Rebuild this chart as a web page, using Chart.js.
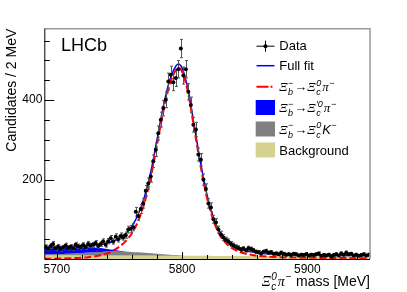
<!DOCTYPE html>
<html>
<head>
<meta charset="utf-8">
<script src="https://cdn.jsdelivr.net/npm/chart.js@4.4.1/dist/chart.umd.min.js"></script>
<style>
html, body { margin: 0; padding: 0; background: #fff; }
#wrap { width: 407px; height: 292px; }
</style>
</head>
<body>
<div id="wrap"><canvas id="c" width="407" height="292"></canvas></div>
<script>
// Data: candidates per 2 MeV bin
const binCentres = [
    5691, 5693, 5695, 5697, 5699, 5701, 5703, 5705, 5707, 5709,
    5711, 5713, 5715, 5717, 5719, 5721, 5723, 5725, 5727, 5729,
    5731, 5733, 5735, 5737, 5739, 5741, 5743, 5745, 5747, 5749,
    5751, 5753, 5755, 5757, 5759, 5761, 5763, 5765, 5767, 5769,
    5771, 5773, 5775, 5777, 5779, 5781, 5783, 5785, 5787, 5789,
    5791, 5793, 5795, 5797, 5799, 5801, 5803, 5805, 5807, 5809,
    5811, 5813, 5815, 5817, 5819, 5821, 5823, 5825, 5827, 5829,
    5831, 5833, 5835, 5837, 5839, 5841, 5843, 5845, 5847, 5849,
    5851, 5853, 5855, 5857, 5859, 5861, 5863, 5865, 5867, 5869,
    5871, 5873, 5875, 5877, 5879, 5881, 5883, 5885, 5887, 5889,
    5891, 5893, 5895, 5897, 5899, 5901, 5903, 5905, 5907, 5909,
    5911, 5913, 5915, 5917, 5919, 5921, 5923, 5925, 5927, 5929,
    5931, 5933, 5935, 5937, 5939, 5941, 5943, 5945, 5947, 5949
];
const counts = [
    30, 26, 33, 38, 27, 31, 25, 29, 34, 28,
    31, 27, 36, 32, 30, 35, 30, 38, 34, 36,
    40, 33, 38, 44, 36, 45, 52, 44, 56, 50,
    58, 55, 60, 74, 76, 80, 119, 108, 126, 140,
    172, 190, 208, 246, 275, 317, 351, 380, 401, 447,
    464, 445, 456, 478, 530, 462, 478, 421, 388, 338,
    326, 263, 250, 200, 176, 140, 130, 100, 92, 74,
    62, 54, 48, 44, 38, 34, 30, 28, 24, 26,
    22, 27, 25, 22, 18, 17, 14, 18, 20, 16,
    17, 13, 14, 12, 16, 13, 11, 12, 10, 13,
    12, 9, 11, 10, 12, 9, 11, 10, 12, 14,
    8, 10, 9, 11, 7, 10, 12, 9, 14, 11,
    16, 12, 13, 9, 11, 8, 10, 12, 9, 11
];

// Fit curves, sampled on fitMass
const fitMass = [5690, 5695, 5700, 5705, 5710, 5715, 5720, 5725, 5730, 5735, 5740, 5745, 5750, 5755, 5760,
    5765, 5770, 5775, 5780, 5785, 5790, 5795, 5797, 5800, 5805, 5810, 5815, 5820, 5825, 5830,
    5835, 5840, 5845, 5850, 5855, 5860, 5870, 5880, 5890, 5900, 5910, 5920, 5930, 5940, 5950];
const fullFit = [31.0, 31.2, 31.6, 31.7, 31.9, 32.5, 33.3, 34.1, 35.3, 36.9, 39.4, 44.1, 51.8, 64.1, 82.8,
    112.8, 157.5, 219.3, 301, 383.9, 448.7, 485.8, 491.4, 480.9, 423.3, 330, 238, 159.9, 104.8, 68.8,
    47.7, 34.6, 26.6, 21.5, 18, 15.4, 12.8, 11.5, 10.7, 10.1, 9.7, 9.3, 9.0, 8.7, 8.5];
const signal = [0.5, 0.7, 1, 1.3, 1.7, 2.3, 3.2, 4.5, 6.5, 9.5, 14, 21, 31, 45, 65,
    96, 142, 205, 288, 372, 438, 476, 482, 472, 415, 322, 230, 152, 97, 61,
    40, 27, 19, 14, 10.5, 8, 5.5, 4.3, 3.6, 3.1, 2.8, 2.5, 2.3, 2.1, 2.0];
const xicPrimePi = [19, 18.6, 18.2, 17.6, 17, 16, 15, 13.5, 11.8, 9.5, 6.5, 3.8, 1.6, 0.4, 0,
    0, 0, 0, 0, 0, 0, 0, 0, 0, 0, 0, 0, 0, 0, 0,
    0, 0, 0, 0, 0, 0, 0, 0, 0, 0, 0, 0, 0, 0, 0];
const xicK = [2, 2.5, 3, 3.5, 4, 5, 6, 7, 8, 9, 10, 10.5, 10.5, 10, 9.2,
    8.2, 7, 5.8, 4.6, 3.5, 2.4, 1.5, 1.2, 0.7, 0.2, 0, 0, 0, 0, 0,
    0, 0, 0, 0, 0, 0, 0, 0, 0, 0, 0, 0, 0, 0, 0];
const background = [9.5, 9.4, 9.4, 9.3, 9.2, 9.2, 9.1, 9.1, 9.0, 8.9, 8.9, 8.8, 8.7, 8.7, 8.6,
    8.6, 8.5, 8.5, 8.4, 8.4, 8.3, 8.3, 8.2, 8.2, 8.1, 8.0, 8.0, 7.9, 7.8, 7.8,
    7.7, 7.6, 7.6, 7.5, 7.5, 7.4, 7.3, 7.2, 7.1, 7.0, 6.9, 6.8, 6.7, 6.6, 6.5];

const xMajorTicks = [5700, 5800, 5900];
const xMinorTicks = [5720, 5740, 5760, 5780, 5820, 5840, 5860, 5880, 5920, 5940];
const yMajorTicks = [200, 400];
const yMinorTicks = [50, 100, 150, 250, 300, 350, 450, 500, 550];

const SANS = '"Liberation Sans", Arial, Helvetica, sans-serif';
const SERIF = '"Liberation Serif", "Times New Roman", serif';
const KHAKI = '#d5d18e';

function pts(xs, ys) {
    return xs.map((x, i) => ({ x, y: ys[i] }));
}

// stacked components: background, then Xi_c K, then Xi_c' pi
const stackBkg = background;
const stackK = background.map((v, i) => v + xicK[i]);
const stackPrime = stackK.map((v, i) => v + xicPrimePi[i]);

// little latex-ish text renderer
const G = (t) => ({ t, font: 'italic {s}px ' + SERIF });
const I = (t) => ({ t, font: 'italic {s}px ' + SANS });
const T = (t) => ({ t, font: '{s}px ' + SANS });
const SS = (sub, sup) => ({ sub, sup });

function rich(ctx, toks, x, y, size, draw) {
    let cx = x;
    toks.forEach((tk) => {
        if (tk.sub !== undefined || tk.sup !== undefined) {
            const s = Math.round(size * 0.7);
            ctx.font = 'italic ' + s + 'px ' + SANS;
            let w = 0;
            if (tk.sup) {
                if (draw) ctx.fillText(tk.sup, cx + 0.5, y - size * 0.42);
                w = Math.max(w, ctx.measureText(tk.sup).width);
            }
            if (tk.sub) {
                if (draw) ctx.fillText(tk.sub, cx + 0.5, y + size * 0.3);
                w = Math.max(w, ctx.measureText(tk.sub).width);
            }
            cx += w + 1.5;
        } else {
            ctx.font = tk.font.replace('{s}', size);
            if (draw) ctx.fillText(tk.t, cx, y);
            cx += ctx.measureText(tk.t).width;
        }
    });
    return cx - x;
}

const legendItems = [
    { kind: 'data', text: [T('Data')] },
    { kind: 'line', color: '#0000ff', text: [T('Full fit')] },
    { kind: 'dash', color: '#ff0000', text: [G('Ξ'), SS('b', '−'), T('→'), G('Ξ'), SS('c', '0'), G('π'), SS(undefined, '−')] },
    { kind: 'box', color: '#0000ff', text: [G('Ξ'), SS('b', '−'), T('→'), G('Ξ'), SS('c', '′0'), G('π'), SS(undefined, '−')] },
    { kind: 'box', color: '#808080', text: [G('Ξ'), SS('b', '−'), T('→'), G('Ξ'), SS('c', '0'), I('K'), SS(undefined, '−')] },
    { kind: 'box', color: KHAKI, text: [T('Background')] }
];
const legendRows = [45.7, 65.7, 86.7, 107.5, 129, 150];

const errorBars = {
    id: 'errorBars',
    beforeDatasetDraw(chart, args) {
        if (args.index !== 0) return;
        const { ctx, scales: { x, y } } = chart;
        ctx.save();
        ctx.strokeStyle = '#555';
        ctx.lineWidth = 1;
        binCentres.forEach((m, i) => {
            const n = counts[i];
            const e = Math.sqrt(n);
            const px = Math.round(x.getPixelForValue(m)) + 0.5;
            const y1 = y.getPixelForValue(n + e);
            const y2 = y.getPixelForValue(Math.max(0, n - e));
            ctx.beginPath();
            ctx.moveTo(px, y1); ctx.lineTo(px, y2);
            ctx.moveTo(px - 1.5, y1); ctx.lineTo(px + 1.5, y1);
            ctx.moveTo(px - 1.5, y2); ctx.lineTo(px + 1.5, y2);
            ctx.stroke();
        });
        ctx.restore();
    }
};

const decorations = {
    id: 'decorations',
    afterDraw(chart) {
        const { ctx, chartArea: a, scales: { x, y } } = chart;
        ctx.save();
        // frame
        ctx.lineWidth = 1.5;
        ctx.strokeStyle = '#9a9a9a';
        ctx.beginPath();
        ctx.moveTo(a.left, a.top); ctx.lineTo(a.right, a.top); ctx.lineTo(a.right, a.bottom);
        ctx.stroke();
        ctx.lineWidth = 1;
        ctx.strokeStyle = '#000';
        ctx.beginPath();
        ctx.moveTo(a.left + 0.5, a.top); ctx.lineTo(a.left + 0.5, a.bottom + 0.5); ctx.lineTo(a.right, a.bottom + 0.5);
        // inward ticks
        xMajorTicks.forEach((v) => { const p = Math.round(x.getPixelForValue(v)) + 0.5; ctx.moveTo(p, a.bottom); ctx.lineTo(p, a.bottom - 7); });
        xMinorTicks.forEach((v) => { const p = Math.round(x.getPixelForValue(v)) + 0.5; ctx.moveTo(p, a.bottom); ctx.lineTo(p, a.bottom - 4); });
        yMajorTicks.forEach((v) => { const p = Math.round(y.getPixelForValue(v)) + 0.5; ctx.moveTo(a.left, p); ctx.lineTo(a.left + 10, p); });
        yMinorTicks.forEach((v) => { const p = Math.round(y.getPixelForValue(v)) + 0.5; ctx.moveTo(a.left, p); ctx.lineTo(a.left + 5.5, p); });
        ctx.stroke();

        ctx.fillStyle = '#000';
        ctx.textBaseline = 'alphabetic';
        // LHCb label
        ctx.font = '18px ' + SANS;
        ctx.fillText('LHCb', 61, 51);

        // x axis title, right aligned to the frame
        const xt = [G('Ξ'), SS('c', '0'), G('π'), SS(undefined, '−'), T(' mass [MeV]')];
        const w = rich(ctx, xt, 0, 0, 14, false);
        rich(ctx, xt, a.right - w, 285.5, 14, true);

        // legend
        legendItems.forEach((it, i) => {
            const cy = legendRows[i];
            ctx.save();
            if (it.kind === 'data') {
                ctx.strokeStyle = '#000'; ctx.lineWidth = 1;
                ctx.beginPath();
                ctx.moveTo(256.5, cy + 0.5); ctx.lineTo(274.5, cy + 0.5);
                ctx.moveTo(265.5, cy - 5); ctx.lineTo(265.5, cy + 6);
                ctx.stroke();
                ctx.beginPath(); ctx.arc(265.5, cy + 0.5, 2, 0, Math.PI * 2); ctx.fill();
            } else if (it.kind === 'line' || it.kind === 'dash') {
                ctx.strokeStyle = it.color; ctx.lineWidth = it.kind === 'line' ? 1.5 : 2;
                if (it.kind === 'dash') ctx.setLineDash([12, 2, 2, 2]);
                ctx.beginPath(); ctx.moveTo(256.5, cy); ctx.lineTo(274.5, cy); ctx.stroke();
            } else {
                ctx.fillStyle = it.color;
                ctx.fillRect(255.7, cy - 7.5, 19.3, 15);
            }
            ctx.restore();
            ctx.fillStyle = '#000';
            rich(ctx, it.text, 279.3, cy + 4.7, 13, true);
        });
        ctx.restore();
    }
};

const curve = { pointRadius: 0, cubicInterpolationMode: 'monotone' };

new Chart(document.getElementById('c'), {
    type: 'line',
    data: {
        datasets: [
            { label: 'Data', data: pts(binCentres, counts), showLine: false, pointRadius: 2, pointBorderWidth: 0,
              pointBackgroundColor: '#000', borderColor: '#000' },
            { label: 'Signal', data: pts(fitMass, signal), ...curve, borderColor: '#ff0000', borderWidth: 2,
              borderDash: [7, 3], fill: false },
            { label: 'Full fit', data: pts(fitMass, fullFit), ...curve, borderColor: '#0000ff', borderWidth: 1.5, fill: false },
            { label: 'Xic prime pi', data: pts(fitMass, stackPrime), ...curve, borderWidth: 0, borderColor: 'rgba(0,0,0,0)',
              backgroundColor: '#0000ff', fill: '+1' },
            { label: 'Xic K', data: pts(fitMass, stackK), ...curve, borderWidth: 0, borderColor: 'rgba(0,0,0,0)',
              backgroundColor: '#808080', fill: '+1' },
            { label: 'Background', data: pts(fitMass, stackBkg), ...curve, borderWidth: 0, borderColor: 'rgba(0,0,0,0)',
              backgroundColor: KHAKI, fill: 'origin' }
        ]
    },
    options: {
        responsive: false,
        animation: false,
        devicePixelRatio: 1,
        layout: { padding: { top: 28.7, right: 37, left: 0, bottom: 0 } },
        plugins: { legend: { display: false }, tooltip: { enabled: false } },
        scales: {
            x: {
                type: 'linear', min: 5690, max: 5950,
                grid: { display: false, drawTicks: false },
                border: { display: false },
                afterBuildTicks: (s) => { s.ticks = xMajorTicks.map((v) => ({ value: v })); },
                afterFit: (s) => { s.height = 33; },
                ticks: { autoSkip: false, maxRotation: 0, padding: 3, color: '#000', font: { family: SANS, size: 12 },
                         callback: (v) => String(v) }
            },
            y: {
                min: 0, max: 580,
                grid: { display: false, drawTicks: false },
                border: { display: false },
                afterBuildTicks: (s) => { s.ticks = yMajorTicks.map((v) => ({ value: v })); },
                afterFit: (s) => { s.width = 44.3; },
                ticks: { padding: 2, color: '#000', font: { family: SANS, size: 12 }, callback: (v) => String(v) },
                title: { display: true, text: 'Candidates / 2 MeV', align: 'end', color: '#000',
                         padding: { top: 4, bottom: 0 }, font: { family: SANS, size: 14 } }
            }
        }
    },
    plugins: [errorBars, decorations]
});
</script>
</body>
</html>
